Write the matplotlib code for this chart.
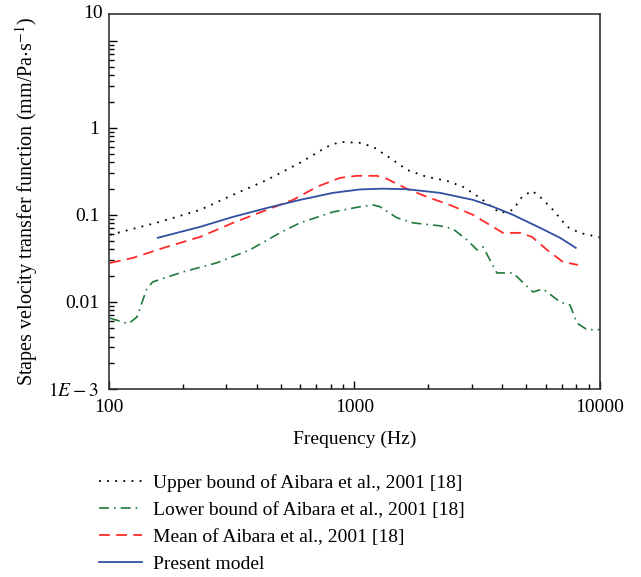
import numpy as np
import matplotlib
matplotlib.use("Agg")
import matplotlib.pyplot as plt

plt.rcParams['font.family'] = ['Liberation Serif', 'DejaVu Serif']
plt.rcParams['mathtext.fontset'] = 'stix'

# frequencies (Hz) and values (mm/Pa.s^-1)
upper_f = [101, 161, 235, 320, 440, 600, 772, 873, 1053, 1189, 1395, 1637, 1973, 2381,
           2767, 3245, 3915, 4424, 4812, 5285, 5697, 6440, 7343, 8291, 10000]
upper_v = [0.059, 0.083, 0.114, 0.170, 0.252, 0.396, 0.605, 0.69, 0.672, 0.605, 0.452,
           0.329, 0.273, 0.246, 0.21, 0.157, 0.105, 0.114, 0.161, 0.189, 0.161, 0.114,
           0.073, 0.062, 0.055]

lower_f = [101, 120, 130, 143, 151, 200, 275, 375, 497, 600, 817, 1053, 1189, 1270, 1490,
           1731, 2230, 2518, 2873, 3155, 3337, 3803, 4424, 5333, 5861, 6874, 7551, 8060,
           8855, 10000]
lower_v = [0.0065, 0.0056, 0.0067, 0.0145, 0.017, 0.0221, 0.0281, 0.0396, 0.0621, 0.0809,
           0.108, 0.124, 0.130, 0.124, 0.0925, 0.0809, 0.0748, 0.069, 0.0516, 0.0396,
           0.0429, 0.0215, 0.0215, 0.013, 0.0141, 0.010, 0.0092, 0.0057, 0.0048, 0.0048]

mean_f = [101, 125, 172, 235, 320, 440, 562, 703, 873, 1024, 1235, 1356, 1637, 1973, 2449,
          3040, 3666, 4027, 4722, 5285, 6085, 7063, 8130]
mean_v = [0.028, 0.032, 0.0429, 0.0558, 0.0809, 0.1143, 0.1486, 0.21, 0.266, 0.281, 0.281,
          0.259, 0.199, 0.161, 0.130, 0.100, 0.0728, 0.0621, 0.0621, 0.0558, 0.0396,
          0.0288, 0.0266]

model_f = [158, 235, 320, 440, 600, 817, 1053, 1300, 1637, 2230, 3040, 3666, 4424, 5697,
           6874, 7964]
model_v = [0.0545, 0.0728, 0.0948, 0.120, 0.1486, 0.179, 0.196, 0.200, 0.197, 0.179, 0.1486,
           0.124, 0.100, 0.071, 0.0545, 0.0418]

labels = ['Upper bound of Aibara et al., 2001 [18]',
          'Lower bound of Aibara et al., 2001 [18]',
          'Mean of Aibara et al., 2001 [18]',
          'Present model']

fig = plt.figure(figsize=(6.41, 5.77), dpi=100)
ax = fig.add_axes([0.170, 0.326, 0.766, 0.650])

ax.plot(upper_f, upper_v, color='black', lw=1.3, linestyle=(0, (1, 3.5)), label=labels[0])
ax.plot(lower_f, lower_v, color='#1f7a3c', lw=1.2, linestyle=(0, (6, 3, 1, 3)), label=labels[1])
ax.plot(mean_f, mean_v, color='#ff2a2a', lw=1.3, linestyle=(0, (6, 3.5)), label=labels[2])
ax.plot(model_f, model_v, color='#2f4fa0', lw=1.3, label=labels[3])

ax.set_xscale('log')
ax.set_yscale('log')
ax.set_xlim(100, 10000)
ax.set_ylim(1e-3, 10 ** 1.31)

ax.set_xticks([100, 1000, 10000])
ax.set_xticklabels(['100', '1000', '10000'])
ax.set_xticks([m * d for d in (100, 1000) for m in range(2, 10)], minor=True)
ax.set_yticks([1e-3, 1e-2, 1e-1, 1, 10])
ax.set_yticklabels(['$1E-3$', '0.01', '0.1', '1', ''])
ax.set_yticks([m * d for d in (1e-3, 1e-2, 1e-1, 1) for m in range(2, 10)], minor=True)
ax.text(-0.012, 1.0, '10', transform=ax.transAxes, ha='right', va='center', fontsize=14)

ax.tick_params(which='both', direction='in', top=False, right=False, labelsize=14, width=1)
ax.tick_params(which='major', length=6, pad=7)
ax.tick_params(which='minor', length=3.5)
for s in ax.spines.values():
    s.set_linewidth(1.2)
    s.set_color('#333333')

ax.set_xlabel('Frequency (Hz)', fontsize=14, labelpad=11)
ax.set_ylabel('Stapes velocity transfer function (mm/Pa$\\cdot$s$^{-1}$)', fontsize=14.5, labelpad=6)

fig.legend(loc='upper left', bbox_to_anchor=(0.155, 0.178), frameon=False, fontsize=14,
           handlelength=2.2, handletextpad=0.55, labelspacing=0.48, borderpad=0, borderaxespad=0)

fig.savefig('out.png', dpi=100)
